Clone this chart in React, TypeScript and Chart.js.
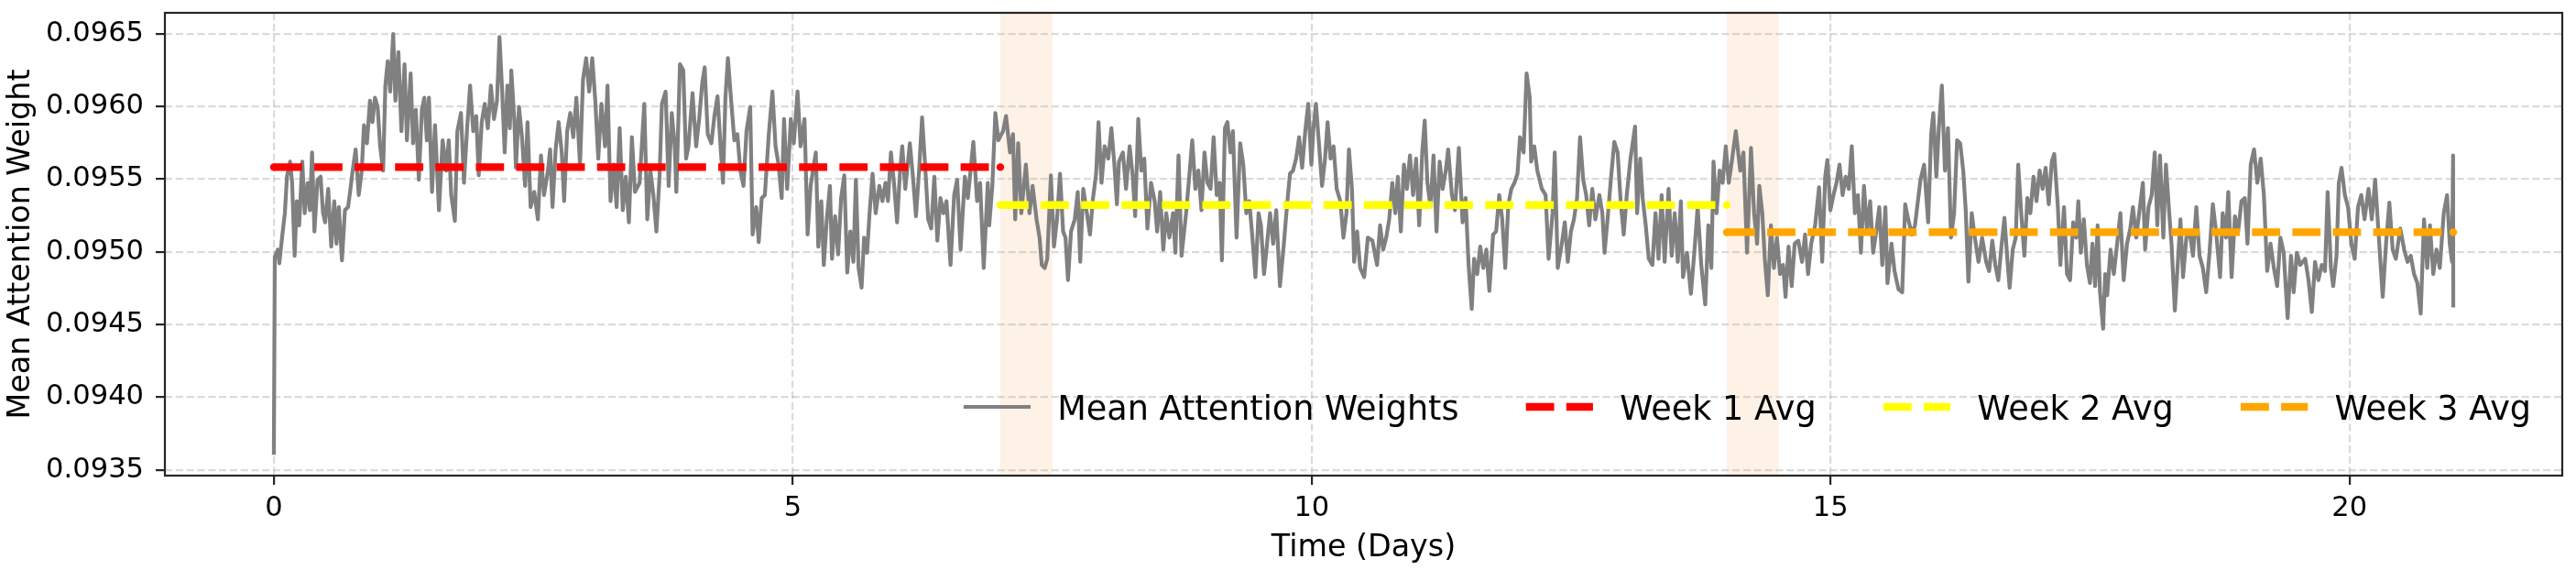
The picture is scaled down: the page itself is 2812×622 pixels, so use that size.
import React, { useEffect, useRef } from 'react';
import { Chart, registerables } from 'chart.js';

Chart.register(...registerables);

const xTicks = [0, 5, 10, 15, 20];
const yTicks = [0.0935, 0.094, 0.0945, 0.095, 0.0955, 0.096, 0.0965];
const seriesLabel = 'Mean Attention Weights';
const weekLabels = ['Week 1 Avg', 'Week 2 Avg', 'Week 3 Avg'];
const weekStart = [0, 7, 14];
const weekEnd = [7, 14, 21];
const weekAvg = [0.095583, 0.095322, 0.095135];
const weekColors = ['#ff0000', '#ffff00', '#ffa500'];
const shadedStart = [7, 14];
const shadedEnd = [7.5, 14.5];

// [time in days, mean attention weight]
const meanAttention: Array<[number, number]> = [
  [0.000,0.093603],[0.009,0.094962],[0.038,0.095015],[0.053,0.094921],[0.082,0.095119],[0.106,0.095266],[0.126,0.095517],[0.156,0.095621],[0.176,0.095475],[0.200,0.094973],
  [0.221,0.095349],[0.244,0.095182],[0.274,0.095621],[0.297,0.095266],[0.326,0.095475],[0.347,0.095287],[0.368,0.095684],[0.391,0.095140],[0.421,0.095496],[0.450,0.095517],
  [0.474,0.095266],[0.494,0.095203],[0.524,0.095433],[0.553,0.095036],[0.582,0.095349],[0.603,0.095056],[0.626,0.095308],[0.656,0.094941],[0.685,0.095287],[0.715,0.095308],
  [0.738,0.095433],[0.759,0.095559],[0.788,0.095705],[0.818,0.095391],[0.847,0.095559],[0.868,0.095872],[0.897,0.095747],[0.926,0.096040],[0.950,0.095893],[0.974,0.096061],
  [1.000,0.095998],[1.024,0.095726],[1.053,0.095559],[1.074,0.096144],[1.097,0.096312],[1.121,0.096103],[1.150,0.096500],[1.171,0.096040],[1.200,0.096374],[1.229,0.095831],
  [1.259,0.096291],[1.282,0.095768],[1.318,0.096228],[1.341,0.095747],[1.368,0.095977],[1.397,0.095496],[1.426,0.095977],[1.450,0.096061],[1.474,0.095768],[1.494,0.096061],
  [1.524,0.095412],[1.553,0.095872],[1.591,0.095287],[1.626,0.095768],[1.662,0.095559],[1.685,0.095768],[1.709,0.095391],[1.744,0.095213],[1.768,0.095831],[1.803,0.095956],
  [1.832,0.095475],[1.862,0.095851],[1.891,0.096144],[1.921,0.095831],[1.950,0.095935],[1.974,0.095527],[2.003,0.095893],[2.032,0.096019],[2.062,0.095851],[2.091,0.096144],
  [2.121,0.095914],[2.150,0.096040],[2.174,0.096479],[2.200,0.096103],[2.224,0.095684],[2.250,0.096144],[2.274,0.095851],[2.288,0.096249],[2.318,0.095893],[2.332,0.095579],
  [2.362,0.095998],[2.391,0.095789],[2.421,0.095454],[2.444,0.095893],[2.474,0.095308],[2.509,0.095412],[2.544,0.095224],[2.574,0.095663],[2.603,0.095391],[2.641,0.095559],
  [2.662,0.095705],[2.685,0.095308],[2.715,0.095705],[2.744,0.095893],[2.774,0.095684],[2.797,0.095349],[2.826,0.095831],[2.856,0.095956],[2.885,0.095789],[2.915,0.096061],
  [2.950,0.095600],[2.979,0.096186],[3.009,0.096333],[3.038,0.096103],[3.068,0.096333],[3.097,0.096040],[3.126,0.095642],[3.156,0.096019],[3.191,0.095726],[3.215,0.096144],
  [3.244,0.095349],[3.274,0.095600],[3.303,0.095308],[3.332,0.095851],[3.362,0.095287],[3.391,0.095517],[3.421,0.095203],[3.450,0.095789],[3.479,0.095412],[3.524,0.095475],
  [3.569,0.096019],[3.598,0.095224],[3.628,0.095559],[3.657,0.095391],[3.686,0.095140],[3.716,0.095517],[3.739,0.096019],[3.775,0.096103],[3.804,0.095454],[3.834,0.095956],
  [3.863,0.095726],[3.878,0.095412],[3.913,0.096291],[3.945,0.096249],[3.972,0.095642],[3.995,0.095726],[4.034,0.096092],[4.069,0.095726],[4.098,0.095914],[4.128,0.096165],
  [4.151,0.096270],[4.181,0.095810],[4.216,0.095747],[4.245,0.095935],[4.275,0.096071],[4.304,0.095726],[4.328,0.095475],[4.351,0.096061],[4.375,0.096333],[4.404,0.096061],
  [4.437,0.095768],[4.466,0.095810],[4.495,0.095559],[4.525,0.095454],[4.554,0.095831],[4.590,0.095998],[4.613,0.095119],[4.648,0.095308],[4.672,0.095067],[4.701,0.095370],
  [4.731,0.095391],[4.769,0.095810],[4.804,0.096103],[4.834,0.095726],[4.863,0.095600],[4.893,0.095370],[4.916,0.095914],[4.946,0.095433],[4.981,0.095914],[5.010,0.095747],
  [5.046,0.096103],[5.075,0.095726],[5.113,0.095914],[5.143,0.095119],[5.172,0.095454],[5.222,0.095684],[5.246,0.095036],[5.275,0.095349],[5.299,0.094910],[5.328,0.095224],
  [5.358,0.095454],[5.378,0.094952],[5.408,0.095245],[5.437,0.094983],[5.466,0.095370],[5.496,0.095527],[5.525,0.094858],[5.555,0.095140],[5.584,0.094931],[5.608,0.095496],
  [5.634,0.094889],[5.663,0.094753],[5.687,0.095098],[5.716,0.094994],[5.740,0.095266],[5.769,0.095538],[5.799,0.095266],[5.834,0.095454],[5.864,0.095349],[5.893,0.095475],
  [5.917,0.095349],[5.946,0.095684],[5.975,0.095475],[6.005,0.095203],[6.034,0.095559],[6.055,0.095726],[6.084,0.095433],[6.128,0.095747],[6.158,0.095517],[6.187,0.095245],
  [6.217,0.095559],[6.246,0.095925],[6.275,0.095600],[6.305,0.095224],[6.334,0.095161],[6.364,0.095517],[6.393,0.095077],[6.423,0.095370],[6.452,0.095266],[6.481,0.095349],
  [6.520,0.094910],[6.555,0.095391],[6.584,0.095496],[6.617,0.095015],[6.658,0.095517],[6.687,0.095370],[6.740,0.095757],[6.776,0.095349],[6.805,0.095475],[6.840,0.094889],
  [6.879,0.095475],[6.893,0.095182],[6.923,0.095454],[6.952,0.095956],[6.981,0.095768],[7.026,0.095831],[7.055,0.095935],[7.093,0.095684],[7.122,0.095810],[7.143,0.095224],
  [7.172,0.095747],[7.202,0.095266],[7.246,0.095600],[7.281,0.095266],[7.311,0.095454],[7.349,0.095224],[7.378,0.095098],[7.399,0.094910],[7.428,0.094889],[7.452,0.094952],
  [7.487,0.095527],[7.517,0.095036],[7.546,0.095224],[7.575,0.095538],[7.605,0.095140],[7.628,0.095098],[7.652,0.094805],[7.681,0.095140],[7.717,0.095224],[7.746,0.095412],
  [7.770,0.094931],[7.799,0.095433],[7.834,0.095266],[7.864,0.095119],[7.893,0.095370],[7.923,0.095538],[7.946,0.095893],[7.975,0.095475],[8.005,0.095726],[8.040,0.095642],
  [8.070,0.095851],[8.099,0.095600],[8.123,0.095328],[8.143,0.095621],[8.181,0.095684],[8.211,0.095433],[8.246,0.095726],[8.276,0.095517],[8.299,0.095245],[8.329,0.095914],
  [8.358,0.095559],[8.387,0.095642],[8.417,0.095161],[8.452,0.095475],[8.487,0.095349],[8.511,0.095140],[8.540,0.095412],[8.570,0.095015],[8.599,0.095266],[8.629,0.095098],
  [8.664,0.095266],[8.687,0.094994],[8.717,0.095663],[8.746,0.094973],[8.790,0.095266],[8.820,0.095517],[8.849,0.095768],[8.879,0.095433],[8.908,0.095559],[8.938,0.095287],
  [8.967,0.095684],[8.996,0.095475],[9.026,0.095433],[9.055,0.095789],[9.085,0.095391],[9.114,0.095475],[9.135,0.094941],[9.164,0.095851],[9.188,0.095893],[9.217,0.095684],
  [9.241,0.095831],[9.276,0.095098],[9.311,0.095747],[9.341,0.095600],[9.370,0.095266],[9.399,0.095349],[9.429,0.095098],[9.458,0.094826],[9.488,0.095266],[9.511,0.095182],
  [9.541,0.094847],[9.570,0.095056],[9.599,0.095266],[9.629,0.095056],[9.658,0.095287],[9.694,0.094764],[9.732,0.095056],[9.761,0.095308],[9.791,0.095538],[9.820,0.095559],
  [9.850,0.095642],[9.879,0.095789],[9.908,0.095579],[9.938,0.095831],[9.967,0.096019],[9.997,0.095600],[10.017,0.095851],[10.041,0.096019],[10.070,0.095747],[10.100,0.095454],
  [10.129,0.095642],[10.153,0.095893],[10.182,0.095642],[10.211,0.095726],[10.241,0.095433],[10.276,0.095349],[10.306,0.095098],[10.335,0.095266],[10.359,0.095705],[10.388,0.095433],
  [10.409,0.094931],[10.438,0.095140],[10.467,0.094889],[10.506,0.094826],[10.541,0.095098],[10.585,0.095077],[10.630,0.094910],[10.659,0.095182],[10.689,0.095015],[10.718,0.095098],
  [10.747,0.095224],[10.777,0.095475],[10.806,0.095266],[10.830,0.095517],[10.859,0.095140],[10.889,0.095600],[10.918,0.095433],[10.947,0.095663],[10.977,0.095391],[11.006,0.095642],
  [11.036,0.095182],[11.065,0.095684],[11.089,0.095904],[11.115,0.095475],[11.145,0.095308],[11.174,0.095663],[11.203,0.095140],[11.233,0.095621],[11.262,0.095433],[11.292,0.095559],
  [11.315,0.095705],[11.351,0.095391],[11.380,0.095287],[11.418,0.095715],[11.454,0.095203],[11.483,0.095370],[11.512,0.094910],[11.542,0.094607],[11.565,0.094952],[11.595,0.094847],
  [11.624,0.095036],[11.654,0.094889],[11.683,0.095015],[11.712,0.094732],[11.748,0.095119],[11.777,0.095140],[11.807,0.095391],[11.836,0.095224],[11.865,0.094889],[11.895,0.095328],
  [11.924,0.095433],[11.954,0.095475],[11.983,0.095538],[12.007,0.095789],[12.042,0.095684],[12.071,0.096228],[12.101,0.096061],[12.115,0.095621],[12.145,0.095726],[12.174,0.095559],
  [12.218,0.095433],[12.254,0.095391],[12.283,0.094952],[12.321,0.095266],[12.342,0.095684],[12.371,0.094889],[12.410,0.095056],[12.439,0.095203],[12.468,0.094931],[12.498,0.095140],
  [12.527,0.095224],[12.557,0.095370],[12.586,0.095789],[12.616,0.095496],[12.645,0.095391],[12.674,0.095182],[12.704,0.095433],[12.733,0.095224],[12.772,0.095391],[12.801,0.095266],
  [12.822,0.094994],[12.851,0.095224],[12.880,0.095475],[12.916,0.095757],[12.948,0.095684],[12.977,0.095349],[13.007,0.095119],[13.036,0.095391],[13.072,0.095642],[13.116,0.095862],
  [13.136,0.095266],[13.166,0.095642],[13.189,0.095370],[13.219,0.095182],[13.248,0.094952],[13.283,0.094910],[13.313,0.095266],[13.342,0.094952],[13.372,0.095391],[13.401,0.094931],
  [13.439,0.095433],[13.469,0.094973],[13.498,0.095266],[13.528,0.094931],[13.557,0.095349],[13.578,0.094826],[13.616,0.094994],[13.654,0.094711],[13.689,0.095015],[13.719,0.095308],
  [13.754,0.094910],[13.792,0.094638],[13.822,0.095182],[13.851,0.094889],[13.872,0.095621],[13.901,0.095266],[13.931,0.095559],[13.960,0.095475],[13.990,0.095726],[14.019,0.095475],
  [14.048,0.095621],[14.087,0.095831],[14.116,0.095642],[14.130,0.095559],[14.160,0.095684],[14.195,0.094994],[14.233,0.095715],[14.263,0.095266],[14.292,0.095056],[14.313,0.095454],
  [14.342,0.095266],[14.366,0.094952],[14.395,0.094701],[14.425,0.095182],[14.454,0.094889],[14.483,0.095098],[14.513,0.094847],[14.542,0.094910],[14.566,0.094690],[14.595,0.095036],
  [14.625,0.094764],[14.654,0.095056],[14.689,0.095077],[14.725,0.094931],[14.754,0.095119],[14.783,0.094847],[14.813,0.095056],[14.851,0.095182],[14.889,0.095444],[14.919,0.094931],
  [14.948,0.095517],[14.969,0.095632],[14.998,0.095287],[15.028,0.095391],[15.057,0.095475],[15.086,0.095600],[15.116,0.095391],[15.145,0.095517],[15.175,0.095433],[15.204,0.095726],
  [15.234,0.095266],[15.263,0.095391],[15.292,0.094994],[15.322,0.095454],[15.351,0.095140],[15.381,0.095349],[15.410,0.094994],[15.440,0.095140],[15.469,0.095308],[15.498,0.094910],
  [15.528,0.095308],[15.548,0.094785],[15.587,0.095056],[15.616,0.094868],[15.654,0.094743],[15.690,0.094722],[15.719,0.095328],[15.748,0.095224],[15.784,0.095119],[15.813,0.095182],
  [15.866,0.095496],[15.901,0.095600],[15.940,0.095203],[15.969,0.095810],[15.990,0.095956],[16.019,0.095517],[16.043,0.095851],[16.072,0.096144],[16.102,0.095559],[16.131,0.095851],
  [16.160,0.095098],[16.190,0.095266],[16.219,0.095768],[16.249,0.095747],[16.278,0.095559],[16.302,0.095287],[16.328,0.094795],[16.360,0.095266],[16.390,0.095098],[16.425,0.094931],
  [16.460,0.095098],[16.499,0.094931],[16.528,0.094868],[16.558,0.095077],[16.587,0.094910],[16.616,0.094805],[16.646,0.095036],[16.675,0.095234],[16.705,0.094931],[16.725,0.094753],
  [16.755,0.095015],[16.784,0.095098],[16.808,0.095600],[16.837,0.095266],[16.867,0.094973],[16.896,0.095370],[16.925,0.095266],[16.955,0.095517],[16.984,0.095349],[17.014,0.095559],
  [17.043,0.095433],[17.072,0.095579],[17.102,0.095328],[17.131,0.095621],[17.155,0.095674],[17.190,0.095308],[17.214,0.094910],[17.249,0.095308],[17.278,0.094847],[17.308,0.094805],
  [17.337,0.095203],[17.367,0.095098],[17.387,0.095349],[17.411,0.094994],[17.440,0.095224],[17.470,0.094910],[17.499,0.094785],[17.523,0.095056],[17.549,0.094764],[17.573,0.095182],
  [17.596,0.094722],[17.626,0.094471],[17.646,0.094847],[17.665,0.094701],[17.697,0.095015],[17.729,0.094847],[17.761,0.095056],[17.792,0.095266],[17.824,0.094805],[17.856,0.095056],
  [17.888,0.095161],[17.913,0.095308],[17.945,0.095098],[17.977,0.095287],[18.009,0.095475],[18.031,0.095015],[18.063,0.095308],[18.094,0.095391],[18.123,0.095684],[18.148,0.095182],
  [18.174,0.095663],[18.206,0.095098],[18.231,0.095600],[18.263,0.095266],[18.285,0.095056],[18.317,0.094596],[18.339,0.094847],[18.371,0.095224],[18.396,0.094826],[18.428,0.095098],
  [18.460,0.095140],[18.492,0.094973],[18.524,0.095308],[18.555,0.094973],[18.587,0.094889],[18.619,0.094722],[18.651,0.094994],[18.683,0.095328],[18.714,0.095140],[18.753,0.094826],
  [18.778,0.095266],[18.810,0.095098],[18.832,0.095412],[18.864,0.094826],[18.896,0.095245],[18.927,0.095140],[18.959,0.095349],[18.991,0.095370],[19.017,0.095056],[19.048,0.095600],
  [19.080,0.095705],[19.112,0.095475],[19.144,0.095642],[19.175,0.095391],[19.207,0.094868],[19.239,0.095056],[19.271,0.094889],[19.303,0.094764],[19.334,0.095098],[19.366,0.094994],
  [19.404,0.094544],[19.436,0.094973],[19.462,0.094722],[19.493,0.094994],[19.525,0.094910],[19.573,0.094952],[19.605,0.094805],[19.637,0.094586],[19.668,0.094931],[19.700,0.094805],
  [19.732,0.094910],[19.764,0.094868],[19.789,0.095412],[19.821,0.094889],[19.843,0.094764],[19.875,0.094973],[19.897,0.095475],[19.923,0.095579],[19.955,0.095391],[19.986,0.095308],
  [20.018,0.095056],[20.050,0.094952],[20.082,0.095308],[20.113,0.095391],[20.145,0.095224],[20.183,0.095433],[20.215,0.095224],[20.247,0.095496],[20.279,0.095140],[20.320,0.094690],
  [20.352,0.095056],[20.384,0.095339],[20.416,0.095015],[20.447,0.094952],[20.489,0.095161],[20.527,0.095015],[20.559,0.094931],[20.590,0.094973],[20.622,0.094847],[20.654,0.094785],
  [20.686,0.094575],[20.718,0.095224],[20.749,0.094889],[20.775,0.095182],[20.807,0.094847],[20.838,0.095015],[20.870,0.094889],[20.908,0.095266],[20.940,0.095391],[20.966,0.095056],
  [20.988,0.094931],[20.998,0.095663],[21.000,0.094617],
];

const FONT = 'DejaVu Sans';
const TICK_SIZE = 30.56;
const LABEL_SIZE = 33.33;
const LEGEND_SIZE = 36.6;

const shadePlugin = {
  id: 'shadeBands',
  beforeDraw(chart: any) {
    const { ctx, chartArea, scales } = chart;
    ctx.save();
    ctx.fillStyle = '#ffffff';
    ctx.fillRect(0, 0, chart.width, chart.height);
    ctx.fillStyle = 'rgba(245,160,80,0.15)';
    shadedStart.forEach((s, i) => {
      const x1 = scales.x.getPixelForValue(s);
      const x2 = scales.x.getPixelForValue(shadedEnd[i]);
      ctx.fillRect(x1, chartArea.top, x2 - x1, chartArea.bottom - chartArea.top);
    });
    ctx.restore();
  },
};

const framePlugin = {
  id: 'axesFrame',
  afterDraw(chart: any) {
    const { ctx, chartArea } = chart;
    ctx.save();
    ctx.strokeStyle = '#262626';
    ctx.lineWidth = 2.2;
    ctx.setLineDash([]);
    ctx.strokeRect(chartArea.left, chartArea.top, chartArea.right - chartArea.left, chartArea.bottom - chartArea.top);
    ctx.restore();
  },
};

const legendPlugin = {
  id: 'inlineLegend',
  afterDraw(chart: any) {
    const { ctx, chartArea } = chart;
    const fs = LEGEND_SIZE;
    ctx.save();
    ctx.font = `${fs}px "${FONT}"`;
    const items = chart.data.datasets.map((d: any) => ({
      label: d.label as string,
      color: d.borderColor as string,
      width: d.borderWidth as number,
      dash: (d.borderDash || []) as number[],
    }));
    const hl = 2 * fs;
    const tp = 0.8 * fs;
    const cs = 2 * fs;
    const widths = items.map((it: any) => ctx.measureText(it.label).width);
    const total = widths.reduce((a: number, w: number) => a + hl + tp + w, 0) + cs * (items.length - 1);
    let x = chartArea.right - 34 - total;
    const yLine = chartArea.bottom - 75;
    const yText = chartArea.bottom - 61;
    items.forEach((it: any, i: number) => {
      ctx.beginPath();
      ctx.setLineDash(it.dash);
      ctx.lineWidth = it.width;
      ctx.strokeStyle = it.color;
      ctx.lineCap = 'butt';
      ctx.moveTo(x, yLine);
      ctx.lineTo(x + hl, yLine);
      ctx.stroke();
      ctx.setLineDash([]);
      ctx.fillStyle = '#000000';
      ctx.textAlign = 'left';
      ctx.textBaseline = 'alphabetic';
      ctx.fillText(it.label, x + hl + tp, yText);
      x += hl + tp + widths[i] + cs;
    });
    ctx.restore();
  },
};

export default function App() {
  const ref = useRef<HTMLCanvasElement>(null);

  useEffect(() => {
    if (!ref.current) return;
    Chart.defaults.font.family = FONT;
    const gridCommon = {
      color: 'rgba(176,176,176,0.45)',
      lineWidth: 2.2,
      drawTicks: true,
      tickLength: 10,
      tickColor: '#262626',
      tickWidth: 2.2,
      tickBorderDash: [],
    };
    const chart = new Chart(ref.current, {
      type: 'line',
      data: {
        datasets: [
          {
            label: seriesLabel,
            data: meanAttention.map(([x, y]) => ({ x, y })),
            borderColor: '#808080',
            backgroundColor: '#808080',
            borderWidth: 4.2,
            borderJoinStyle: 'round',
            pointRadius: 0,
            tension: 0,
            order: 1,
          },
          ...weekLabels.map((label, i) => ({
            label,
            data: [
              { x: weekStart[i], y: weekAvg[i] },
              { x: weekEnd[i], y: weekAvg[i] },
            ],
            borderColor: weekColors[i],
            backgroundColor: weekColors[i],
            pointBackgroundColor: weekColors[i],
            pointBorderWidth: 0,
            pointRadius: 4.2,
            borderWidth: 8.3,
            borderDash: [30.8, 13.3],
            borderCapStyle: 'butt',
            tension: 0,
            order: 0,
          })),
        ] as any,
      },
      options: {
        responsive: false,
        maintainAspectRatio: false,
        devicePixelRatio: 1,
        animation: false,
        events: [],
        layout: { padding: { left: 0, top: 14, right: 15, bottom: 0 } },
        plugins: {
          legend: { display: false },
          tooltip: { enabled: false },
          title: { display: false },
        },
        scales: {
          x: {
            type: 'linear',
            min: -1.05,
            max: 22.05,
            afterBuildTicks: (s: any) => {
              s.ticks = xTicks.map((v) => ({ value: v }));
            },
            afterFit: (s: any) => {
              s.height = 103;
              s.paddingLeft = 0;
              s.paddingRight = 0;
            },
            ticks: {
              font: { size: TICK_SIZE, family: FONT },
              color: '#000000',
              padding: 7.7,
              maxRotation: 0,
              autoSkip: false,
              callback: (v: any) => String(v),
            },
            grid: gridCommon,
            border: { display: false, dash: [8.2, 3.6] },
            title: {
              display: true,
              text: 'Time (Days)',
              font: { size: LABEL_SIZE, family: FONT },
              color: '#000000',
              padding: { top: 0, bottom: 3.6 },
            },
          },
          y: {
            type: 'linear',
            min: 0.09346,
            max: 0.096645,
            afterBuildTicks: (s: any) => {
              s.ticks = yTicks.map((v) => ({ value: v }));
            },
            afterFit: (s: any) => {
              s.width = 180;
              s.paddingTop = 0;
              s.paddingBottom = 0;
            },
            ticks: {
              font: { size: TICK_SIZE, family: FONT },
              color: '#000000',
              padding: 13,
              autoSkip: false,
              callback: (v: any) => Number(v).toFixed(4),
            },
            grid: gridCommon,
            border: { display: false, dash: [8.2, 3.6] },
            title: {
              display: true,
              text: 'Mean Attention Weight',
              font: { size: LABEL_SIZE, family: FONT },
              color: '#000000',
              padding: { top: 3.6, bottom: 0 },
            },
          },
        },
      } as any,
      plugins: [shadePlugin, framePlugin, legendPlugin],
    });
    return () => chart.destroy();
  }, []);

  return (
    <div style={{ position: 'fixed', left: 0, top: 0, width: 2812, height: 622, background: '#ffffff' }}>
      <canvas ref={ref} width={2812} height={622} style={{ display: 'block', width: '2812px', height: '622px' }} />
    </div>
  );
}
